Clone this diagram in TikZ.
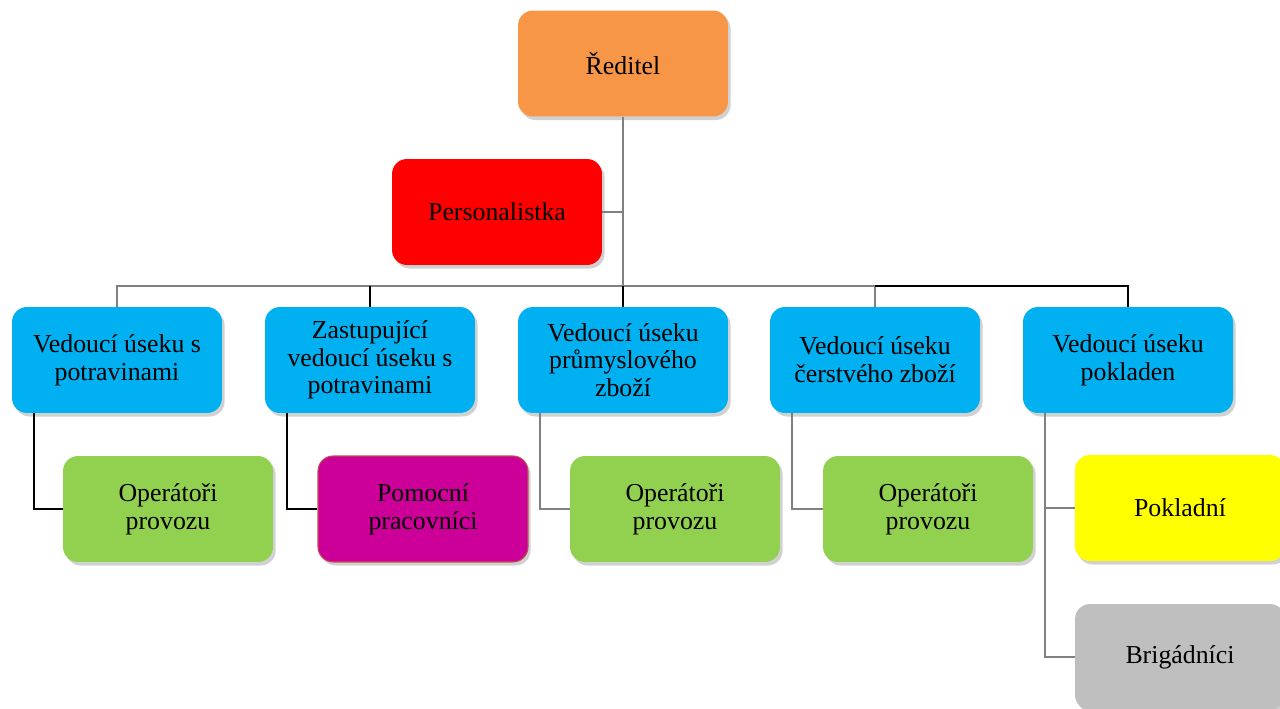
\documentclass[tikz,border=0pt]{standalone}
\usepackage{fontspec}
\setmainfont{Liberation Serif}
\usetikzlibrary{shadows}

\definecolor{cOrange}{RGB}{247,150,70}
\definecolor{cBlue}{RGB}{0,176,240}
\definecolor{cGreen}{RGB}{146,208,80}
\definecolor{cMagenta}{RGB}{204,0,153}
\definecolor{cMagBorder}{RGB}{192,80,77}
\definecolor{cYellow}{RGB}{255,255,0}
\definecolor{cGrey}{RGB}{191,191,191}
\definecolor{cLine}{RGB}{128,128,128}

\begin{document}
\begin{tikzpicture}[x=0.02cm,y=-0.02cm,
  box/.style={rounded corners=0.3cm, minimum width=4.2cm, minimum height=2.12cm,
    inner sep=0pt, align=center, font=\fontsize{14.7}{15.8}\selectfont,
    drop shadow={shadow xshift=1.5pt, shadow yshift=-2pt, opacity=0.3, fill=black!60}},
  greyline/.style={cLine, line width=1pt},
  blackline/.style={black, line width=1pt}]

\useasboundingbox (0,0) rectangle (1280,709);

% Boxes
\node [box, fill=cOrange] (dir) at (623,63.5) {Ředitel};
\node [box, fill=red] (pers) at (497,212) {Personalistka};

\node [box, fill=cBlue] (v1) at (117,360) {Vedoucí úseku s\\potravinami};
\node [box, fill=cBlue] (v2) at (370,360) {Zastupující\\vedoucí úseku s\\potravinami};
\node [box, fill=cBlue] (v3) at (623,360) {Vedoucí úseku\\průmyslového\\zboží};
\node [box, fill=cBlue] (v4) at (875,360) {Vedoucí úseku\\čerstvého zboží};
\node [box, fill=cBlue] (v5) at (1128,360) {Vedoucí úseku\\pokladen};

\node [box, fill=cGreen] (o1) at (168,509) {Operátoři\\provozu};
\node [box, fill=cMagenta, draw=cMagBorder, line width=0.6pt] (pw) at (423,509) {Pomocní\\pracovníci};
\node [box, fill=cGreen] (o3) at (675,509) {Operátoři\\provozu};
\node [box, fill=cGreen] (o4) at (928,509) {Operátoři\\provozu};
\node [box, fill=cYellow] (pok) at (1180,508) {Pokladní};
\node [box, fill=cGrey] (brig) at (1180,657) {Brigádníci};

% Bus
\coordinate (bus) at (0,286);
\coordinate (t1) at ([xshift=0.44cm]v1.south west);
\coordinate (t2) at ([xshift=0.44cm]v2.south west);
\coordinate (t3) at ([xshift=0.44cm]v3.south west);
\coordinate (t4) at ([xshift=0.44cm]v4.south west);
\coordinate (t5) at ([xshift=0.44cm]v5.south west);

%Connectors
\draw [greyline] (dir.south) -- (dir.south |- bus);
\draw [greyline] (pers.east) -- (pers.east -| dir.south);
\draw [greyline] (v1.north) -- (v1.north |- bus) -- (v4.north |- bus) -- (v4.north);
\draw [blackline] (dir.south |- bus) -- (v3.north);
\draw [blackline] (v2.north |- bus) -- (v2.north);
\draw [blackline] (v4.north |- bus) -| (v5.north);

\draw [blackline] (t1) |- (o1.west);
\draw [blackline] (t2) |- (pw.west);
\draw [greyline] (t3) |- (o3.west);
\draw [greyline] (t4) |- (o4.west);
\draw [greyline] (t5) |- (pok.west);
\draw [greyline] (t5) |- (brig.west);
\end{tikzpicture}
\end{document}
